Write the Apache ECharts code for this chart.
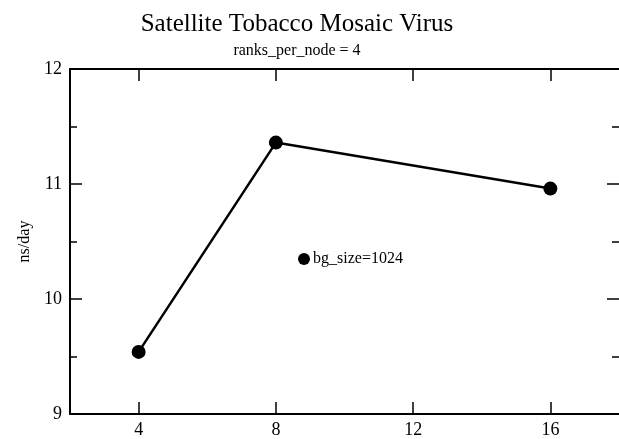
<!DOCTYPE html>
<html><head><meta charset="utf-8">
<script src="https://cdn.jsdelivr.net/npm/echarts@6/dist/echarts.min.js"></script>
<style>html,body{margin:0;padding:0;background:#fff}#c{width:619px;height:439px}</style>
</head><body><div id="c"></div>
<script>
const titleText = "Satellite Tobacco Mosaic Virus";
const subtitleText = "ranks_per_node = 4";
const yAxisName = "ns/day";
const seriesName = "bg_size=1024";
const xValues = [4, 8, 16];
const yValues = [9.54, 11.36, 10.96];
const xTicks = [4, 8, 12, 16];
const yTicks = [9, 10, 11, 12];

const font = "Liberation Serif";
const chart = echarts.init(document.getElementById('c'), null, {renderer: 'canvas'});
const baseX = {
  type: 'value', min: 2, max: 18,
  axisLine: {show: true, onZero: false, lineStyle: {color: '#000', width: 2}},
  axisTick: {show: true, inside: true, length: 12, customValues: xTicks, lineStyle: {color: '#000', width: 1.5}},
  splitLine: {show: false}
};
const baseY = {
  type: 'value', min: 9, max: 12, interval: 1,
  axisLine: {show: true, onZero: false, lineStyle: {color: '#000', width: 2}},
  axisTick: {show: true, inside: true, length: 12, lineStyle: {color: '#000', width: 1.5}},
  minorTick: {show: true, splitNumber: 2, length: 7, lineStyle: {color: '#000', width: 1.5}},
  splitLine: {show: false}
};
chart.setOption({
  animation: false,
  backgroundColor: '#fff',
  title: [
    {text: titleText, left: 292, textAlign: 'center', top: 7,
     textStyle: {fontFamily: font, fontSize: 25, fontWeight: 'normal', color: '#000'}},
    {text: subtitleText, left: 292, textAlign: 'center', top: 38,
     textStyle: {fontFamily: font, fontSize: 16, fontWeight: 'normal', color: '#000'}}
  ],
  legend: {
    left: 293, top: 246, icon: 'circle', itemWidth: 12, itemHeight: 12, itemGap: 4,
    textStyle: {fontFamily: font, fontSize: 16, color: '#000', padding: [0,0,0,-2]},
    data: [seriesName]
  },
  grid: {left: 70, top: 69, width: 552, height: 346, show: false},
  xAxis: [
    Object.assign({}, baseX, {position: 'bottom',
      axisLabel: {show: true, customValues: xTicks, margin: 7, fontFamily: font, fontSize: 18, color: '#000'}}),
    Object.assign({}, baseX, {position: 'top', axisLabel: {show: false}})
  ],
  yAxis: [
    Object.assign({}, baseY, {position: 'left', name: yAxisName, nameLocation: 'middle', nameGap: 24,
      nameTextStyle: {fontFamily: font, fontSize: 16, color: '#000'},
      axisLabel: {show: true, margin: 8, fontFamily: font, fontSize: 18, color: '#000'}}),
    Object.assign({}, baseY, {position: 'right', axisLine: {show: false}, axisLabel: {show: false}})
  ],
  series: [{
    name: seriesName, type: 'line',
    data: xValues.map((x, i) => [x, yValues[i]]),
    symbol: 'circle', symbolSize: 14,
    lineStyle: {color: '#000', width: 2.5},
    itemStyle: {color: '#000'}
  }]
});
</script></body></html>
